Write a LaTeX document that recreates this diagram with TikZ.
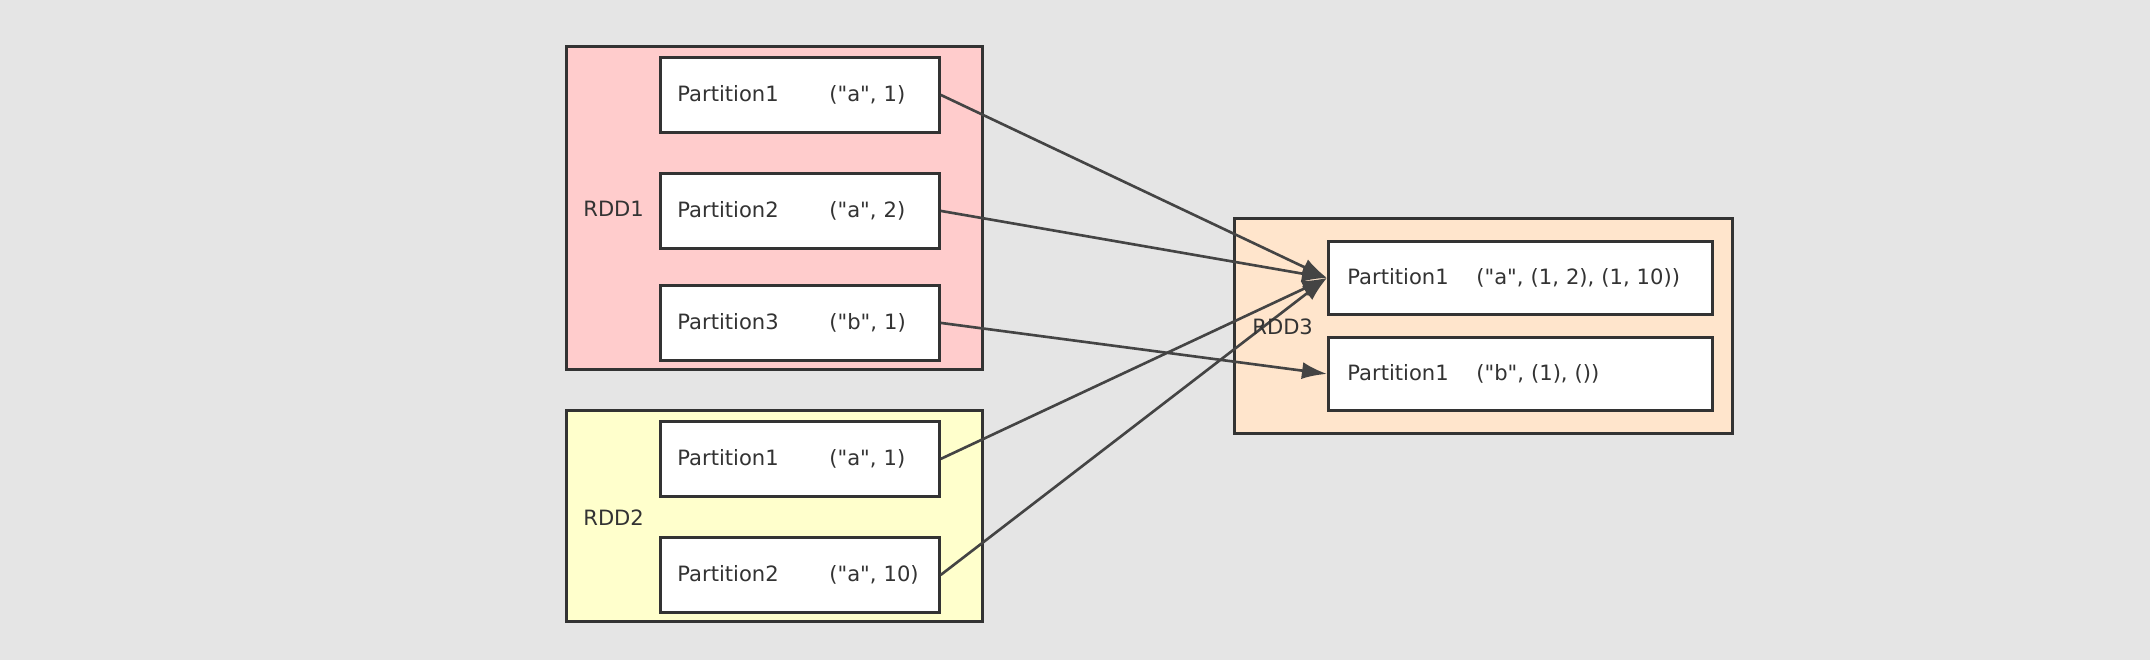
\documentclass[tikz,border=0pt]{standalone}
\usepackage{fontspec}
\setmainfont{DejaVu Sans}[Ligatures=TeXOff]
\usetikzlibrary{arrows.meta}

\definecolor{bggray}{HTML}{E5E5E5}
\definecolor{boxline}{HTML}{333333}
\definecolor{linkgray}{HTML}{444444}
\definecolor{rddpink}{HTML}{FFCCCC}
\definecolor{rddyellow}{HTML}{FFFFCC}
\definecolor{rddpeach}{HTML}{FFE5CC}
\newcommand{\partfont}{\fontsize{12}{14}\selectfont}

\begin{document}
\begin{tikzpicture}[x=0.02cm, y=-0.02cm,
  rdd/.style={draw=boxline, line width=1.6pt, anchor=north west, inner sep=0pt},
  part/.style={draw=boxline, fill=white, line width=1.6pt, anchor=north west,
    minimum height=1.5cm, inner xsep=0.34cm, text width=4.9cm, align=left,
    text=boxline, font=\partfont},
  joined/.style={part, minimum height=1.46cm, inner xsep=0.38cm, text width=6.92cm},
  rddlabel/.style={anchor=west, inner sep=0pt, text=boxline, font=\partfont},
  link/.style={draw=linkgray, line width=1.5pt, -{Latex[length=0.5cm,width=0.34cm]}}]
  \fill[bggray] (0,0) rectangle (2150,660);

  % source RDDs
  \node[rdd, fill=rddpink, minimum width=8.32cm, minimum height=6.46cm] (rdd1) at (565,45) {};
  \node[rddlabel] (rdd1lbl) at (583,209) {RDD1};
  \node[part] (a1) at (659,56)  {\makebox[3.04cm][l]{Partition1}("a", 1)};
  \node[part] (a2) at (659,172) {\makebox[3.04cm][l]{Partition2}("a", 2)};
  \node[part] (a3) at (659,284) {\makebox[3.04cm][l]{Partition3}("b", 1)};

  \node[rdd, fill=rddyellow, minimum width=8.32cm, minimum height=4.22cm] (rdd2) at (565,409) {};
  \node[rddlabel] (rdd2lbl) at (583,518) {RDD2};
  \node[part] (b1) at (659,420) {\makebox[3.04cm][l]{Partition1}("a", 1)};
  \node[part] (b2) at (659,536) {\makebox[3.04cm][l]{Partition2}("a", 10)};

  % joined RDD
  \node[rdd, fill=rddpeach, minimum width=9.96cm, minimum height=4.3cm] (rdd3) at (1233,217) {};
  \node[joined] (c1) at (1327,240) {\makebox[2.58cm][l]{Partition1}("a", (1, 2), (1, 10))};
  \node[joined] (c2) at (1327,336) {\makebox[2.58cm][l]{Partition1}("b", (1), ())};

  \draw[link] (a1.east) -- (c1.west);
  \draw[link] (a2.east) -- (c1.west);
  \draw[link] (a3.east) -- (c2.west);
  \draw[link] (b1.east) -- (c1.west);
  \draw[link] (b2.east) -- (c1.west);
  \node[rddlabel] (rdd3lbl) at (1252,327) {RDD3};
\end{tikzpicture}
\end{document}
